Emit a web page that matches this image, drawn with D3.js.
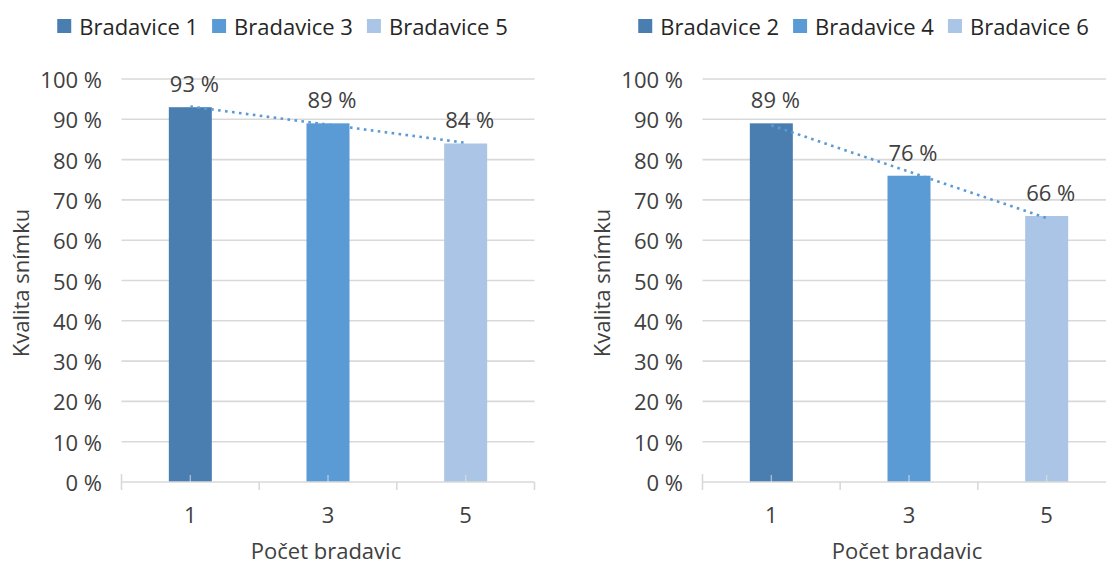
<!DOCTYPE html>
<html>
<head>
<meta charset="utf-8">
<script src="https://cdn.jsdelivr.net/npm/d3@7"></script>
<style>
  html, body { margin: 0; padding: 0; background: #fff; }
  svg text { font-family: "Open Sans", "Noto Sans", sans-serif; fill: #404040; }
</style>
</head>
<body>
<svg id="chart" width="1106" height="564"></svg>
<script>
// Number of warts on the image (x categories)
const categories = ["1", "3", "5"];

// Left panel: series names and image quality (%)
const seriesLeft = ["Bradavice 1", "Bradavice 3", "Bradavice 5"];
const valuesLeft = [93, 89, 84];

// Right panel: series names and image quality (%)
const seriesRight = ["Bradavice 2", "Bradavice 4", "Bradavice 6"];
const valuesRight = [89, 76, 66];

// Y axis ticks (%)
const yTicks = [0, 10, 20, 30, 40, 50, 60, 70, 80, 90, 100];

const barColors = ["#4a7eb0", "#5b9bd5", "#abc5e6"];
const trendColor = "#5b9bd5";
const gridColor = "#d9d9d9";
const fontSize = 22;

const svg = d3.select("#chart");

function drawPanel(offsetX, names, values) {
  const g = svg.append("g").attr("transform", `translate(${offsetX},0)`);

  const x = d3.scaleBand().domain(categories).range([121.5, 534.5]).paddingInner(0).paddingOuter(0);
  const y = d3.scaleLinear().domain([0, 100]).range([482, 79]);
  const barW = 43;

  // horizontal gridlines
  g.append("g").selectAll("line").data(yTicks.filter(t => t > 0)).join("line")
    .attr("x1", x.range()[0]).attr("x2", x.range()[1])
    .attr("y1", d => y(d)).attr("y2", d => y(d))
    .attr("stroke", gridColor).attr("stroke-width", 1.6);

  // y tick labels
  g.append("g").selectAll("text").data(yTicks).join("text")
    .attr("x", 102).attr("y", d => y(d))
    .attr("text-anchor", "end").attr("dominant-baseline", "central")
    .style("font-size", fontSize + "px")
    .text(d => d + " %");

  // bars
  g.append("g").selectAll("rect").data(values).join("rect")
    .attr("x", (d, i) => x(categories[i]) + x.bandwidth() / 2 - barW / 2)
    .attr("width", barW)
    .attr("y", d => y(d))
    .attr("height", d => y(0) - y(d))
    .attr("fill", (d, i) => barColors[i]);

  // category axis line and tick marks
  const axis = g.append("g");
  axis.append("line")
    .attr("x1", x.range()[0]).attr("x2", x.range()[1])
    .attr("y1", y(0)).attr("y2", y(0))
    .attr("stroke", gridColor).attr("stroke-width", 1.6);
  const bounds = categories.map(c => x(c)).concat([x.range()[1]]);
  axis.selectAll("line.tick").data(bounds).join("line").attr("class", "tick")
    .attr("x1", d => d).attr("x2", d => d)
    .attr("y1", (d, i) => i === 0 ? y(0) - 8 : y(0)).attr("y2", y(0) + 8)
    .attr("stroke", gridColor).attr("stroke-width", 1.6);
  axis.selectAll("line.mid").data(categories).join("line").attr("class", "mid")
    .attr("x1", d => x(d) + x.bandwidth() / 2).attr("x2", d => x(d) + x.bandwidth() / 2)
    .attr("y1", y(0) - 7).attr("y2", y(0))
    .attr("stroke", "#e6e6e6").attr("stroke-opacity", 0.6).attr("stroke-width", 1.4);

  // x tick labels
  g.append("g").selectAll("text").data(categories).join("text")
    .attr("x", d => x(d) + x.bandwidth() / 2).attr("y", 514)
    .attr("text-anchor", "middle").attr("dominant-baseline", "central")
    .style("font-size", fontSize + "px")
    .text(d => d);

  // linear trendline through the three bars
  const xs = values.map((d, i) => i);
  const mx = d3.mean(xs), my = d3.mean(values);
  const slope = d3.sum(xs, (xi, i) => (xi - mx) * (values[i] - my)) / d3.sum(xs, xi => (xi - mx) ** 2);
  const icpt = my - slope * mx;
  const cx = i => x(categories[i]) + x.bandwidth() / 2;
  g.append("line")
    .attr("x1", cx(0)).attr("y1", y(icpt))
    .attr("x2", cx(values.length - 1)).attr("y2", y(icpt + slope * (values.length - 1)))
    .attr("stroke", trendColor).attr("stroke-width", 2.6)
    .attr("stroke-dasharray", "2.6 4.4");

  // data labels
  g.append("g").selectAll("text").data(values).join("text")
    .attr("x", (d, i) => cx(i) + 4).attr("y", d => y(d) - 24)
    .attr("text-anchor", "middle").attr("dominant-baseline", "central")
    .style("font-size", fontSize + "px")
    .text(d => d + " %");

  // axis titles
  g.append("text")
    .attr("x", 326).attr("y", 550)
    .attr("text-anchor", "middle").attr("dominant-baseline", "central")
    .style("font-size", fontSize + "px")
    .text("Počet bradavic");
  g.append("text")
    .attr("transform", "translate(20,283) rotate(-90)")
    .attr("text-anchor", "middle").attr("dominant-baseline", "central")
    .style("font-size", fontSize + "px")
    .text("Kvalita snímku");

  // legend, centred above the panel
  const legend = g.append("g").attr("transform", "translate(0,26)");
  const items = legend.selectAll("g").data(names).join("g");
  items.append("rect").attr("width", 14).attr("height", 14).attr("y", -7)
    .attr("fill", (d, i) => barColors[i]);
  items.append("text").attr("x", 22).attr("dominant-baseline", "central")
    .style("font-size", fontSize + "px").style("fill", "#262626")
    .text(d => d);
  let cursor = 0;
  const offsets = [];
  items.each(function () {
    offsets.push(cursor);
    const w = 22 + d3.select(this).select("text").node().getComputedTextLength();
    cursor += w + 14;
  });
  const total = cursor - 14;
  items.attr("transform", (d, i) => `translate(${offsets[i]},0)`);
  legend.attr("transform", `translate(${282.5 - total / 2},26)`);
}

drawPanel(0, seriesLeft, valuesLeft);
drawPanel(581, seriesRight, valuesRight);
</script>
</body>
</html>
